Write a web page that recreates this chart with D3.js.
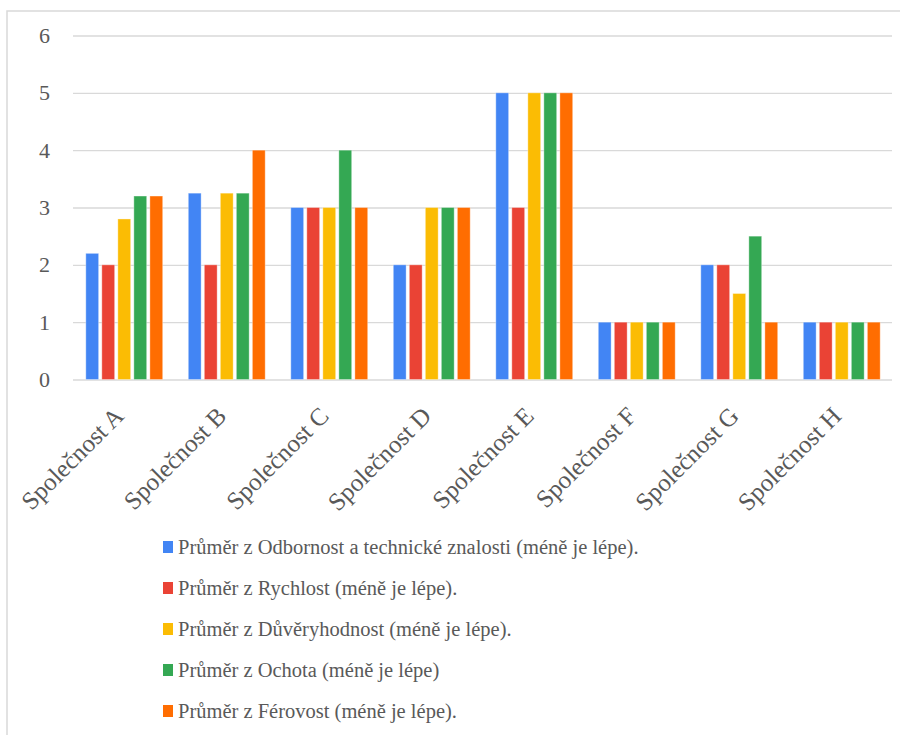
<!DOCTYPE html>
<html>
<head>
<meta charset="utf-8">
<script src="https://cdn.jsdelivr.net/npm/d3@7"></script>
<style>
  html, body { margin: 0; padding: 0; background: #fff; }
  svg { display: block; font-family: 'Liberation Serif', 'Times New Roman', serif; }
</style>
</head>
<body>
<svg id="chart" width="900" height="735"></svg>
<script>
// Company categories along the x axis
const categories = ["Společnost A", "Společnost B", "Společnost C", "Společnost D",
                    "Společnost E", "Společnost F", "Společnost G", "Společnost H"];

// Series names (legend) and colours
const seriesNames = [
  "Průměr z Odbornost a technické znalosti (méně je lépe).",
  "Průměr z Rychlost (méně je lépe).",
  "Průměr z Důvěryhodnost (méně je lépe).",
  "Průměr z Ochota (méně je lépe)",
  "Průměr z Férovost (méně je lépe)."
];
const seriesColors = ["#4285F4", "#EA4335", "#FBBC04", "#34A853", "#FF6D01"];

// Average scores per series, one value per company
const odbornost      = [2.2, 3.25, 3, 2, 5, 1, 2,   1];
const rychlost       = [2,   2,    3, 2, 3, 1, 2,   1];
const duveryhodnost  = [2.8, 3.25, 3, 3, 5, 1, 1.5, 1];
const ochota         = [3.2, 3.25, 4, 3, 5, 1, 2.5, 1];
const ferovost       = [3.2, 4,    3, 3, 5, 1, 1,   1];

const yTicks = [0, 1, 2, 3, 4, 5, 6];

const seriesValues = [odbornost, rychlost, duveryhodnost, ochota, ferovost];

const FONT = "'Liberation Serif', 'Times New Roman', serif";
const TEXT_COLOR = "#595959";

const svg = d3.select("#chart");

// Outer frame
svg.append("rect")
  .attr("x", 7).attr("y", 11)
  .attr("width", 900).attr("height", 740)
  .attr("fill", "none")
  .attr("stroke", "#d9d9d9")
  .attr("stroke-width", 1.5);

const plot = { left: 73, right: 893, top: 35.5, bottom: 379.5 };

const x0 = d3.scaleBand()
  .domain(categories)
  .range([plot.left, plot.right])
  .paddingInner(0)
  .paddingOuter(0);

const x1 = d3.scaleBand()
  .domain(d3.range(seriesNames.length))
  .range([x0.bandwidth() * 0.125, x0.bandwidth() * 0.875])
  .paddingInner(0.2)
  .paddingOuter(0);

const y = d3.scaleLinear()
  .domain([0, 6])
  .range([plot.bottom, plot.top]);

// Horizontal gridlines and y labels
const yAxis = d3.axisLeft(y)
  .tickValues(yTicks)
  .tickSize(-(plot.right - plot.left))
  .tickPadding(23)
  .tickFormat(d3.format("d"));

const gy = svg.append("g")
  .attr("transform", `translate(${plot.left},0)`)
  .call(yAxis)
  .attr("font-family", null)
  .attr("font-size", null);
gy.select(".domain").remove();
gy.selectAll(".tick line")
  .attr("stroke", "#d9d9d9")
  .attr("stroke-width", 1.4)
  .attr("x2", plot.right - plot.left - 1);
gy.selectAll(".tick text")
  .style("font-family", FONT)
  .style("font-size", "22px")
  .attr("fill", TEXT_COLOR);

// Bars
const groups = svg.append("g")
  .selectAll("g")
  .data(categories)
  .join("g")
  .attr("transform", d => `translate(${x0(d)},0)`);

groups.selectAll("rect")
  .data((d, ci) => seriesValues.map((vals, si) => ({ si, v: vals[ci] })))
  .join("rect")
  .attr("x", d => x1(d.si))
  .attr("width", x1.bandwidth())
  .attr("y", d => y(d.v))
  .attr("height", d => y(0) - y(d.v))
  .attr("fill", d => seriesColors[d.si])
  .attr("stroke", "#ffffff")
  .attr("stroke-opacity", 0.35)
  .attr("stroke-width", 1);

// Rotated category labels
const xAxis = d3.axisBottom(x0).tickSize(0).tickPadding(0);
const gx = svg.append("g")
  .attr("transform", `translate(0,${plot.bottom})`)
  .call(xAxis)
  .attr("font-family", null)
  .attr("font-size", null);
gx.select(".domain").remove();
gx.selectAll(".tick text")
  .style("font-family", FONT)
  .style("font-size", "25px")
  .attr("fill", TEXT_COLOR)
  .attr("text-anchor", "end")
  .attr("dy", null)
  .attr("y", null)
  .attr("transform", "translate(1,38) rotate(-45)");

// Legend
const legend = svg.append("g")
  .attr("transform", "translate(163,547)");

const items = legend.selectAll("g")
  .data(seriesNames)
  .join("g")
  .attr("transform", (d, i) => `translate(0,${i * 41})`);

items.append("rect")
  .attr("x", 0).attr("y", -6)
  .attr("width", 10).attr("height", 12)
  .attr("fill", (d, i) => seriesColors[i]);

items.append("text")
  .attr("x", 15)
  .attr("y", 0)
  .attr("dy", "0.35em")
  .style("font-family", FONT)
  .style("font-size", "20.5px")
  .attr("fill", TEXT_COLOR)
  .text(d => d);
</script>
</body>
</html>
